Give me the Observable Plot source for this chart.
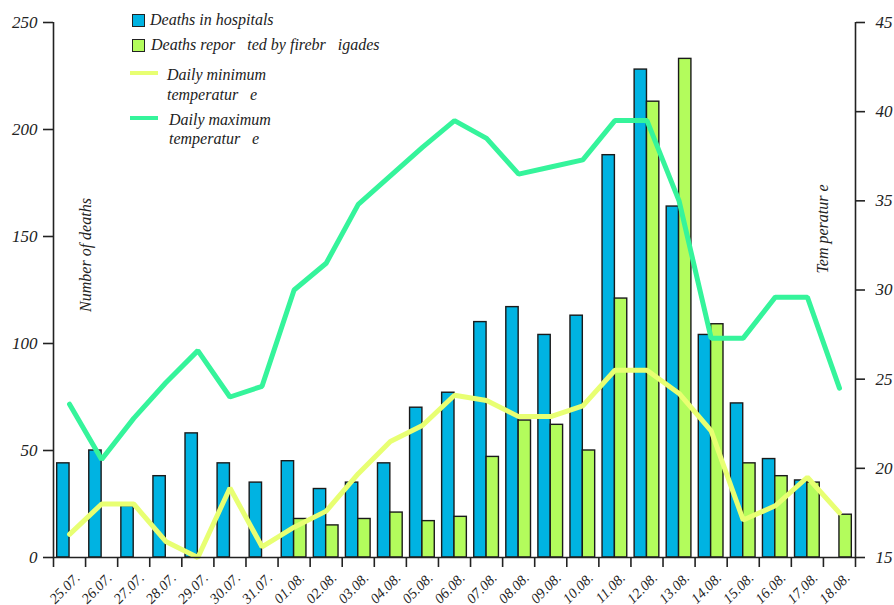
<!DOCTYPE html>
<html>
<head>
<meta charset="utf-8">
<script src="https://cdn.jsdelivr.net/npm/d3@7"></script>
<script src="https://cdn.jsdelivr.net/npm/@observablehq/plot@0.6"></script>
<style>
  html, body { margin: 0; padding: 0; background: #fff; }
  #wrap { position: relative; width: 894px; height: 605px; font-family: "Liberation Serif", "Times New Roman", "DejaVu Serif", serif; font-style: italic; color: #222; }
  #wrap svg text { font-family: "Liberation Serif", "Times New Roman", "DejaVu Serif", serif; font-style: italic; }
  .lg { position: absolute; font-size: 16px; white-space: pre; line-height: 1; }
  .sw { position: absolute; box-sizing: border-box; }
</style>
</head>
<body>
<div id="wrap"></div>
<script>
const dates = ["25.07.","26.07.","27.07.","28.07.","29.07.","30.07.","31.07.","01.08.","02.08.","03.08.","04.08.","05.08.","06.08.","07.08.","08.08.","09.08.","10.08.","11.08.","12.08.","13.08.","14.08.","15.08.","16.08.","17.08.","18.08."];
const hospital = [44,50,24,38,58,44,35,45,32,35,44,70,77,110,117,104,113,188,228,164,104,72,46,36,0];
const firebrigades = [0,0,0,0,0,0,0,18,15,18,21,17,19,47,64,62,50,121,213,233,109,44,38,35,20];
const tempMin = [16.3,18.0,18.0,15.9,15.0,18.9,15.6,16.7,17.6,19.7,21.5,22.4,24.1,23.8,22.9,22.9,23.5,25.5,25.5,24.2,22.1,17.1,17.9,19.5,17.5];
const tempMax = [23.6,20.5,22.8,24.8,26.6,24.0,24.6,30.0,31.5,34.8,36.4,38.0,39.5,38.5,36.5,36.9,37.3,39.5,39.5,35.0,27.3,27.3,29.6,29.6,24.5];
const countTicks = [0,50,100,150,200,250];
const tempTicks = [15,20,25,30,35,40,45];
const seriesNames = ["Deaths in hospitals","Deaths repor   ted by firebr   igades","Daily minimum\ntemperatur   e","Daily maximum\ntemperatur   e"];
const axisTitles = ["Number of deaths","Tem peratur e"];

const colors = {hosp: "#00b3e2", fire: "#b3fc5c", tmin: "#e8ff72", tmax: "#35f49b"};

const tempDomain = [15, 45];
const countDomain = [0, 250];
const toCount = t => (t - tempDomain[0]) / (tempDomain[1] - tempDomain[0]) * (countDomain[1] - countDomain[0]);
const toTemp = c => tempDomain[0] + c / (countDomain[1] - countDomain[0]) * (tempDomain[1] - tempDomain[0]);

const rows = dates.map((d, i) => ({i, date: d, hosp: hospital[i], fire: firebrigades[i], tmin: tempMin[i], tmax: tempMax[i]}));

const chart = Plot.plot({
  width: 894,
  height: 605,
  marginLeft: 53,
  marginRight: 39,
  marginTop: 22,
  marginBottom: 48,
  x: {domain: [0, dates.length], axis: null},
  y: {domain: countDomain, axis: null},
  style: {fontFamily: "'Liberation Serif', 'Times New Roman', serif", fontStyle: "italic", fontSize: "16px", color: "#222", background: "transparent", overflow: "visible"},
  marks: [
    Plot.rectY(rows.filter(d => d.hosp > 0), {x1: d => d.i + 0.115, x2: d => d.i + 0.5, y: "hosp", fill: colors.hosp, stroke: "#1a1a1a", strokeWidth: 1.4}),
    Plot.rectY(rows.filter(d => d.fire > 0), {x1: d => d.i + 0.5, x2: d => d.i + 0.885, y: "fire", fill: colors.fire, stroke: "#1a1a1a", strokeWidth: 1.4}),
    Plot.line(rows, {x: d => d.i + 0.5, y: d => toCount(d.tmin), stroke: colors.tmin, strokeWidth: 5, strokeLinejoin: "miter"}),
    Plot.line(rows, {x: d => d.i + 0.5, y: d => toCount(d.tmax), stroke: colors.tmax, strokeWidth: 5, strokeLinejoin: "miter"}),
    Plot.ruleX([0, dates.length], {y1: countDomain[0], y2: countDomain[1], stroke: "#222", strokeWidth: 1.6}),
    Plot.ruleY([0], {stroke: "#222", strokeWidth: 1.6}),
    Plot.axisY({anchor: "left", ticks: countTicks, tickSize: 10, tickPadding: 6, fontSize: 17, label: null, strokeWidth: 1.6}),
    Plot.axisY({anchor: "right", ticks: tempTicks.map(toCount), tickFormat: v => String(Math.round(toTemp(v))), tickSize: 9, tickPadding: 11, fontSize: 17, label: null, strokeWidth: 1.6}),
    Plot.axisX({ticks: d3.range(dates.length + 1), tickFormat: () => "", tickSize: 10, label: null, strokeWidth: 1.6}),
    Plot.text(rows, {x: d => d.i + 0.5, y: 0, text: "date", rotate: -45, textAnchor: "end", dx: 8, dy: 18, fontSize: 14.5}),
    Plot.text([axisTitles[0]], {frameAnchor: "left", textAnchor: "middle", dx: 32, dy: -35, rotate: -90, fontSize: 16}),
    Plot.text([axisTitles[1]], {frameAnchor: "right", textAnchor: "middle", dx: -33, dy: -61, rotate: -90, fontSize: 16})
  ]
});

const wrap = document.getElementById("wrap");
wrap.appendChild(chart);
chart.style.position = "absolute";
chart.style.left = "0px";
chart.style.top = "0px";

function add(html) { wrap.insertAdjacentHTML("beforeend", html); }
// legend
add(`<div class="sw" style="left:132px;top:14px;width:13px;height:13px;background:${colors.hosp};border:1.3px solid #222"></div>`);
add(`<div class="lg" style="left:150px;top:12px">${seriesNames[0]}</div>`);
add(`<div class="sw" style="left:132px;top:39px;width:13px;height:13px;background:${colors.fire};border:1.3px solid #222"></div>`);
add(`<div class="lg" style="left:151px;top:37px">${seriesNames[1]}</div>`);
add(`<div class="sw" style="left:130px;top:71px;width:28px;height:4px;background:${colors.tmin}"></div>`);
add(`<div class="lg" style="left:167px;top:65px;line-height:20px">${seriesNames[2]}</div>`);
add(`<div class="sw" style="left:130px;top:116px;width:28px;height:4px;background:${colors.tmax}"></div>`);
add(`<div class="lg" style="left:169px;top:110px;line-height:19px">${seriesNames[3]}</div>`);
</script>
</body>
</html>
